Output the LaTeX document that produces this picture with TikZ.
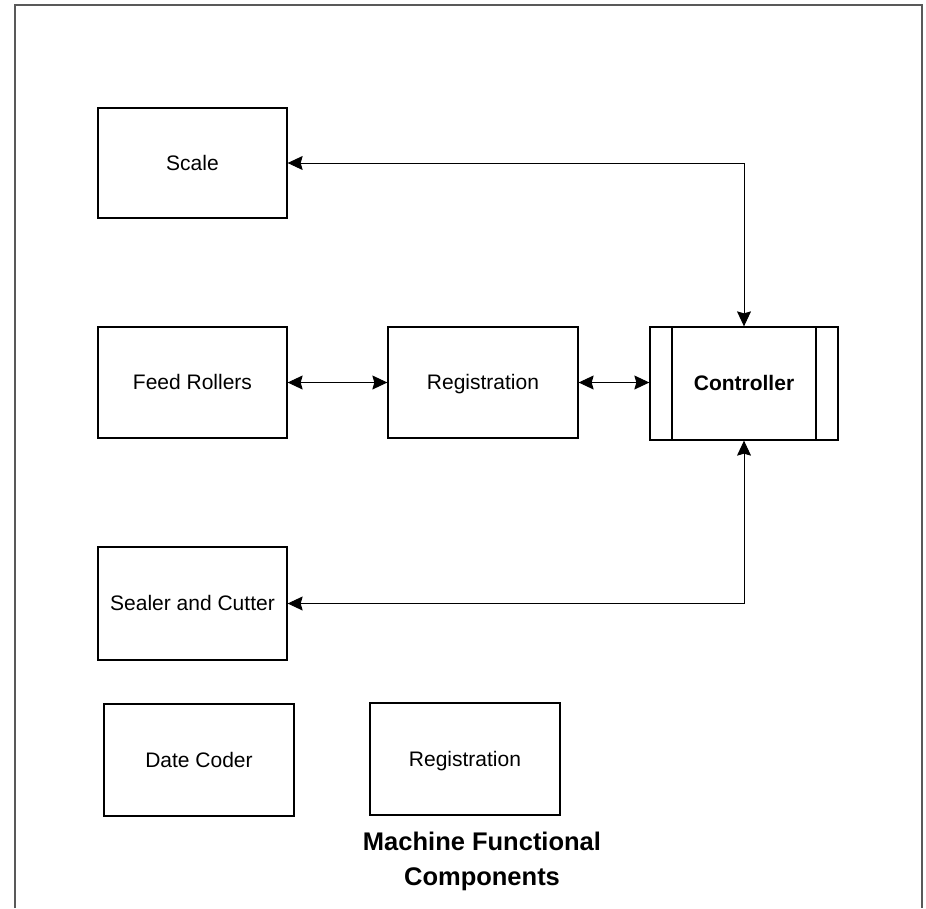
\documentclass[tikz,border=0pt]{standalone}
\usepackage{fontspec}
\setmainfont{Liberation Sans}
\usetikzlibrary{arrows.meta}
\begin{document}
\begin{tikzpicture}[x=1pt,y=-1pt,
  blk/.style={draw=black,line width=1.3pt,fill=white,inner sep=0pt,text height=15pt,text depth=0.5pt,font=\fontsize{21}{25}\selectfont},
  conn/.style={line width=1pt,{Stealth[length=15pt,width=14pt,inset=2pt]}-{Stealth[length=15pt,width=14pt,inset=2pt]}}]
\useasboundingbox (0,0) rectangle (926,908);
\draw[line width=2pt,color=black!65] (15,908) -- (15,5) -- (922,5) -- (922,908);
\node[blk,minimum width=189pt,minimum height=110pt] (scale) at (192.5,163) {Scale};
\node[blk,minimum width=189pt,minimum height=111pt] (feed) at (192.5,382.5) {Feed Rollers};
\node[blk,minimum width=190pt,minimum height=111pt] (reg) at (483,382.5) {Registration};
\node[blk,minimum width=188pt,minimum height=113pt] (ctrl) at (744,383.5) {\bfseries Controller};
\draw[line width=1.3pt] (672,327) -- (672,440) (816,327) -- (816,440);
\node[blk,minimum width=189pt,minimum height=113pt] (seal) at (192.5,603.5) {Sealer and Cutter};
\node[blk,minimum width=190pt,minimum height=112pt] (date) at (199,760) {Date Coder};
\node[blk,minimum width=190pt,minimum height=112pt] (reg2) at (465,759) {Registration};
\node[font=\fontsize{25.5}{35}\selectfont\bfseries,align=center] (title) at (482,861) {Machine Functional\\Components};
\coordinate (c1) at (ctrl.north |- scale.east);
\coordinate (c2) at (ctrl.south |- seal.east);
\draw[conn] (scale.east) -- (c1) -- (ctrl.north);
\draw[conn] (feed.east) -- (reg.west);
\draw[conn] (reg.east) -- (reg.east -| ctrl.west);
\draw[conn] (ctrl.south) -- (c2) -- (seal.east);
\end{tikzpicture}
\end{document}
